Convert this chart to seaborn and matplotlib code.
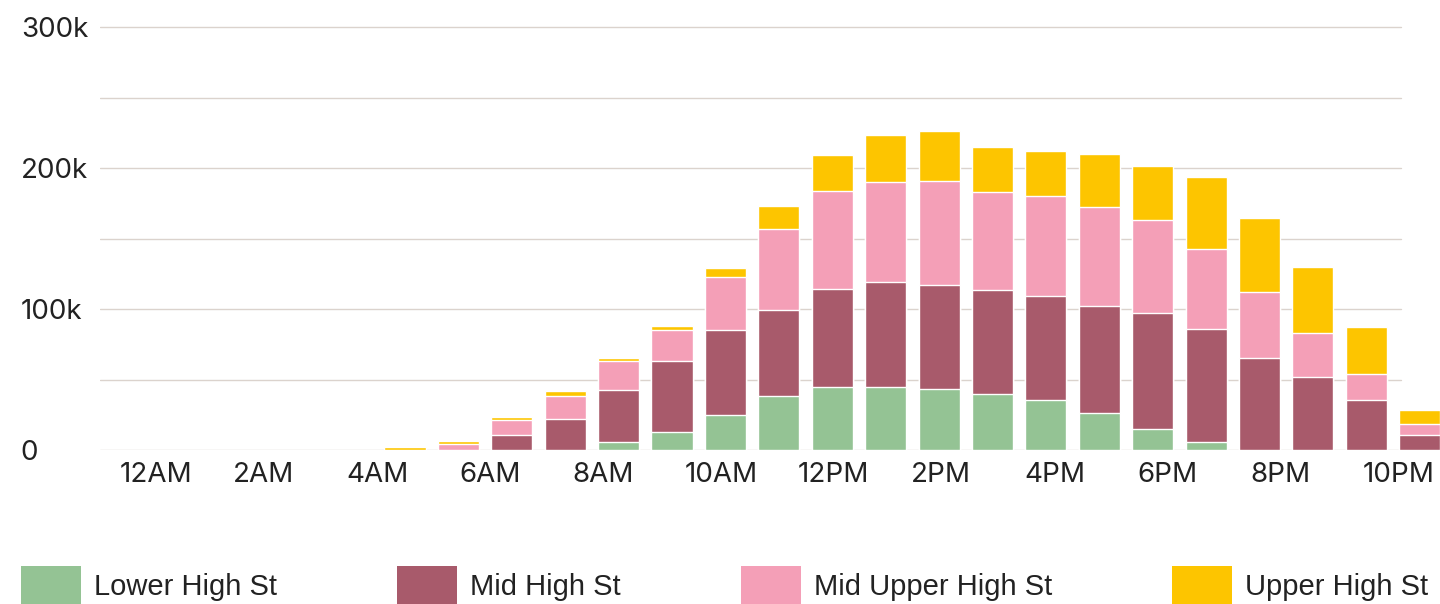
import numpy as np
import pandas as pd
import matplotlib
matplotlib.use("Agg")
import matplotlib.pyplot as plt
import seaborn as sns
from matplotlib.patches import Patch

# ---------------- data (thousands of visits per hour) ----------------
hours = list(range(24))
series_names = ["Lower High St", "Mid High St", "Mid Upper High St", "Upper High St"]
lower_high_st = [0, 0, 0, 0, 0, 0, 0, 0, 5.7, 12.8, 24.8, 38.6, 45.2, 45.0, 43.4, 40.0,
                 35.8, 26.6, 15.2, 5.7, 0, 0, 0, 0]
mid_high_st = [0, 0, 0, 0, 0, 0, 11.0, 22.0, 36.7, 50.2, 60.6, 61.1, 69.2, 74.6, 74.0, 73.4,
               73.4, 75.9, 81.8, 80.4, 65.3, 52.3, 35.8, 11.0]
mid_upper_high_st = [0, 0, 0, 0, 0, 4.3, 10.3, 16.8, 21.0, 22.2, 37.2, 57.2, 69.6, 70.8, 73.5,
                     69.9, 71.0, 70.0, 65.9, 56.7, 46.6, 30.6, 18.2, 7.6]
upper_high_st = [0, 0, 0, 0, 2.5, 2.1, 2.3, 3.4, 2.0, 2.9, 6.5, 16.5, 25.5, 33.2, 35.1, 31.8,
                 32.0, 37.7, 38.3, 51.2, 52.7, 47.0, 33.2, 10.3]
tick_hours = [0, 2, 4, 6, 8, 10, 12, 14, 16, 18, 20, 22]
tick_labels = ["12AM", "2AM", "4AM", "6AM", "8AM", "10AM", "12PM", "2PM", "4PM", "6PM", "8PM", "10PM"]
y_ticks = [0, 100, 200, 300]
y_tick_labels = ["0", "100k", "200k", "300k"]

colors = ["#94c394", "#a85a6b", "#f49fb7", "#fdc500"]

df = pd.DataFrame({
    "hour": hours,
    series_names[0]: lower_high_st,
    series_names[1]: mid_high_st,
    series_names[2]: mid_upper_high_st,
    series_names[3]: upper_high_st,
})
cum = df[series_names].cumsum(axis=1)

# ---------------- style ----------------
sns.set_theme(style="white")
plt.rcParams["font.family"] = ["Inter", "DejaVu Sans"]
text_color = "#222222"

W, H = 1440, 604
fig = plt.figure(figsize=(W / 100, H / 100), dpi=100)
px_per_k = 1.411
zero_px = 450.3
ytop = 301.5
top_px = zero_px - ytop * px_per_k
ax = fig.add_axes([100 / W, (H - zero_px) / H, 1340 / W, (zero_px - top_px) / H])

# gridlines (behind bars)
for v in range(0, 301, 50):
    ax.axhline(v, xmin=0, xmax=(1401 - 100) / 1340, color="#dbd3cd", lw=1.0, zorder=0.5)

# stacked bars: draw cumulative totals from the top series down
for name, col in reversed(list(zip(series_names, colors))):
    heights = cum[name].where(cum[name] > 0)
    sns.barplot(x=df["hour"], y=heights, order=hours, color=col, width=0.77,
                edgecolor="white", linewidth=1.0, saturation=1, ax=ax, zorder=2)

# axes
ax.set_xlim(-1.712, 23.38)
ax.set_ylim(0, ytop)
for s in ax.spines.values():
    s.set_visible(False)
ax.set_xlabel("")
ax.set_ylabel("")

hour_px = 53.4
first_bar_px = 191.4
tick_pos = [(120 + 56.5 * h - first_bar_px) / hour_px for h in tick_hours]
ax.set_xticks(tick_pos, tick_labels)
ax.set_yticks(y_ticks, y_tick_labels)
ax.tick_params(axis="x", length=0, pad=8.3, labelsize=20, labelcolor=text_color)
ax.tick_params(axis="y", length=0, pad=57, labelsize=20, labelcolor=text_color)
for t in ax.get_xticklabels():
    t.set_ha("left")
for t in ax.get_yticklabels():
    t.set_ha("left")

# legend
handles = [Patch(facecolor=c, edgecolor="none") for c in colors]
fig.legend(handles, series_names, loc="center", ncol=4, mode="expand",
           bbox_to_anchor=(21 / W, (H - 585 - 15) / H, 1407 / W, 30 / H),
           frameon=False, borderpad=0, borderaxespad=0,
           handlelength=60 / 29.17, handleheight=1.627, handletextpad=0.45,
           prop={"family": ["Liberation Sans", "DejaVu Sans"], "size": 21},
           labelcolor=text_color)

fig.savefig("out.png", dpi=100, facecolor="white")
